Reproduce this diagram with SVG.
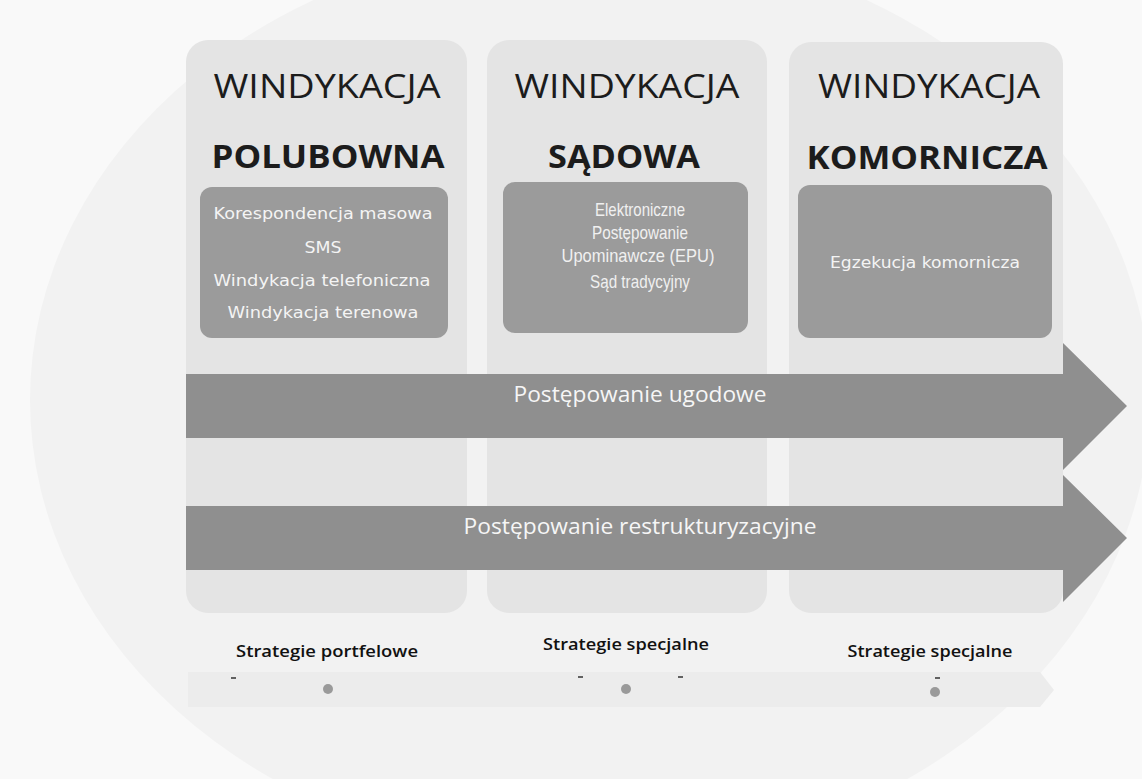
<svg xmlns="http://www.w3.org/2000/svg" width="1142" height="779" viewBox="0 0 1142 779">
<style>
.col{fill:#e4e4e4}
.box{fill:#9b9b9b}
.band{fill:#8f8f8f}
.h1{font-family:"Open Sans","Liberation Sans",sans-serif;font-size:33px;fill:#1c1c1c;text-anchor:middle}
.h2{font-family:"Open Sans","Liberation Sans",sans-serif;font-size:32px;font-weight:bold;fill:#1c1c1c;text-anchor:middle}
.wide{font-family:"DejaVu Sans","Liberation Sans",sans-serif;font-size:16px;fill:#f4f4f4;text-anchor:middle}
.narrow{font-family:"Liberation Sans","Open Sans",sans-serif;font-size:19px;fill:#f0f0f0;text-anchor:middle}
.atext{font-family:"Open Sans","Liberation Sans",sans-serif;font-size:21px;fill:#f6f6f6;text-anchor:middle}
.strat{font-family:"Open Sans","Liberation Sans",sans-serif;font-size:17px;font-weight:600;fill:#111;text-anchor:middle}
.dash{stroke:#333;stroke-width:1.5}
.dot{fill:#9a9a9a}
</style>
<rect x="0" y="0" width="1142" height="779" fill="#f9f9f9"/>
<ellipse cx="590" cy="400" rx="560" ry="460" fill="#f2f2f2"/>

<g id="col-polubowna">
<rect class="col" x="186" y="40" width="281" height="573" rx="22"/>
<text class="h1" x="327" y="98" textLength="227" lengthAdjust="spacingAndGlyphs">WINDYKACJA</text>
<text class="h2" x="328" y="168" textLength="233" lengthAdjust="spacingAndGlyphs">POLUBOWNA</text>
<rect class="box" x="200" y="187" width="248" height="151" rx="12"/>
<text class="wide" x="323" y="219" textLength="219" lengthAdjust="spacingAndGlyphs">Korespondencja masowa</text>
<text class="wide" x="323" y="253" textLength="37" lengthAdjust="spacingAndGlyphs">SMS</text>
<text class="wide" x="322" y="286" textLength="217" lengthAdjust="spacingAndGlyphs">Windykacja telefoniczna</text>
<text class="wide" x="323" y="318" textLength="191" lengthAdjust="spacingAndGlyphs">Windykacja terenowa</text>
</g>

<g id="col-sadowa">
<rect class="col" x="487" y="40" width="280" height="573" rx="22"/>
<text class="h1" x="627" y="98" textLength="225" lengthAdjust="spacingAndGlyphs">WINDYKACJA</text>
<text class="h2" x="624" y="168" textLength="152" lengthAdjust="spacingAndGlyphs">SĄDOWA</text>
<rect class="box" x="503" y="182" width="245" height="151" rx="12"/>
<text class="narrow" x="640" y="216" textLength="90" lengthAdjust="spacingAndGlyphs">Elektroniczne</text>
<text class="narrow" x="640" y="239" textLength="96" lengthAdjust="spacingAndGlyphs">Postępowanie</text>
<text class="narrow" x="638" y="262" textLength="153" lengthAdjust="spacingAndGlyphs">Upominawcze (EPU)</text>
<text class="narrow" x="640" y="288" textLength="100" lengthAdjust="spacingAndGlyphs">Sąd tradycyjny</text>
</g>

<g id="col-komornicza">
<rect class="col" x="789" y="42" width="274" height="571" rx="22"/>
<text class="h1" x="929" y="98" textLength="222" lengthAdjust="spacingAndGlyphs">WINDYKACJA</text>
<text class="h2" x="927" y="169" textLength="241" lengthAdjust="spacingAndGlyphs">KOMORNICZA</text>
<rect class="box" x="798" y="185" width="254" height="153" rx="12"/>
<text class="wide" x="925" y="268" textLength="190" lengthAdjust="spacingAndGlyphs">Egzekucja komornicza</text>
</g>

<g id="connectors">
<g id="arrow-ugodowe">
<polygon class="band" points="186,374 1063,374 1063,343 1127,406 1063,470 1063,438 186,438"/>
<text class="atext" x="640" y="402" textLength="253" lengthAdjust="spacingAndGlyphs">Postępowanie ugodowe</text>
</g>
<g id="arrow-restrukturyzacyjne">
<polygon class="band" points="186,506 1063,506 1063,475 1127,538 1063,602 1063,570 186,570"/>
<text class="atext" x="640" y="534" textLength="353" lengthAdjust="spacingAndGlyphs">Postępowanie restrukturyzacyjne</text>
</g>
</g>

<g id="strategies">
<polygon points="188,672 1040,672 1054,690 1040,707 188,707" fill="#ececec"/>
<text class="strat" x="327" y="657" textLength="182" lengthAdjust="spacingAndGlyphs">Strategie portfelowe</text>
<text class="strat" x="626" y="650" textLength="166" lengthAdjust="spacingAndGlyphs">Strategie specjalne</text>
<text class="strat" x="930" y="657" textLength="165" lengthAdjust="spacingAndGlyphs">Strategie specjalne</text>
<line class="dash" x1="231" y1="678" x2="236" y2="678"/>
<line class="dash" x1="578" y1="677" x2="583" y2="677"/>
<line class="dash" x1="678" y1="677" x2="683" y2="677"/>
<line class="dash" x1="935" y1="678" x2="940" y2="678"/>
<circle class="dot" cx="328" cy="689" r="5"/>
<circle class="dot" cx="626" cy="689" r="5"/>
<circle class="dot" cx="935" cy="692" r="5"/>
</g>
</svg>
